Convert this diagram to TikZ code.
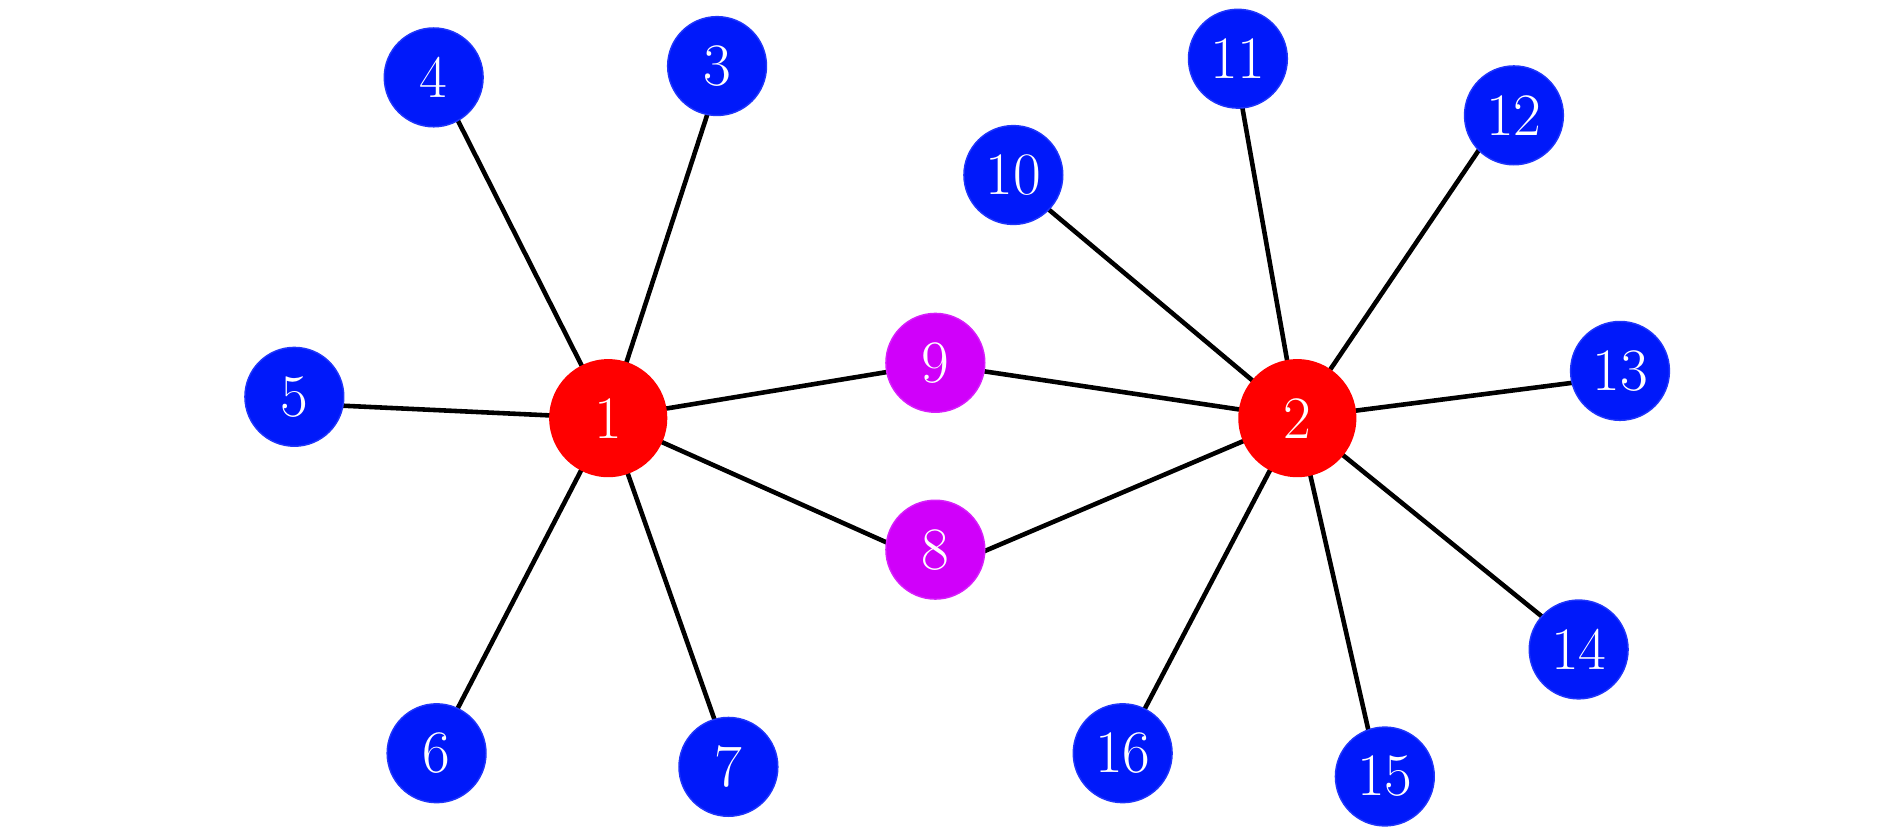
\documentclass[tikz,border=0pt]{standalone}
\begin{document}
\begin{tikzpicture}[x=0.5pt,y=-0.5pt,
  nd/.style={circle,inner sep=0pt,text=white,font=\fontsize{25}{30}\selectfont},
  hub/.style={nd,fill=red,minimum size=49pt},
  leaf/.style={nd,fill=leafblue,draw=leafblue!88!white,line width=0.6pt,minimum size=41pt},
  mid/.style={nd,fill=midmag,draw=midmag!88!white,line width=0.6pt,minimum size=41pt},
  edge/.style={line width=1.9pt,black}]
\definecolor{leafblue}{RGB}{0,25,250}
\definecolor{midmag}{RGB}{208,0,250}
\useasboundingbox (0,0) rectangle (1568,686);
% edge aim points (behind the circles)
\coordinate (a3) at (599.9,54.8);
\coordinate (a4) at (361.8,64.2);
\coordinate (a5) at (244.2,334.7);
\coordinate (a6) at (360.4,624.9);
\coordinate (a7) at (606.6,636.2);
\coordinate (a8) at (783.4,471.4);
\coordinate (a9) at (776,302);
\coordinate (a10) at (840.7,149.2);
\coordinate (a11) at (1023.5,48.7);
\coordinate (a12) at (1246.4,95.7);
\coordinate (a13) at (1344,312.5);
\coordinate (a14) at (1309.7,536.2);
\coordinate (a15) at (1144,644.2);
\coordinate (a16) at (930.4,624.9);
\coordinate (h1) at (504.6,346.9);
\coordinate (h2) at (1076.3,346.9);
\foreach \a/\b in {h1/a3,h1/a4,h1/a5,h1/a6,h1/a7,h1/a8,h1/a9,h2/a8,h2/a9,h2/a10,h2/a11,h2/a12,h2/a13,h2/a14,h2/a15,h2/a16}
  \draw[edge] (\a) -- (\b);
\node[hub] (n1) at (h1) {1};
\node[hub] (n2) at (h2) {2};
\node[leaf] (n3) at (594.9,54.8) {3};
\node[leaf] (n4) at (359.8,64.2) {4};
\node[leaf] (n5) at (244.2,329.2) {5};
\node[leaf] (n6) at (362.2,624.9) {6};
\node[leaf] (n7) at (604.3,636.2) {7};
\node[mid] (n8) at (776,456) {8};
\node[mid] (n9) at (776,301) {9};
\node[leaf] (n10) at (840.7,145.2) {10};
\node[leaf] (n11) at (1027,48.7) {11};
\node[leaf] (n12) at (1256,95.7) {12};
\node[leaf] (n13) at (1344,307.7) {13};
\node[leaf] (n14) at (1309.7,538.8) {14};
\node[leaf] (n15) at (1148.9,644.2) {15};
\node[leaf] (n16) at (931.4,624.9) {16};
\end{tikzpicture}
\end{document}
